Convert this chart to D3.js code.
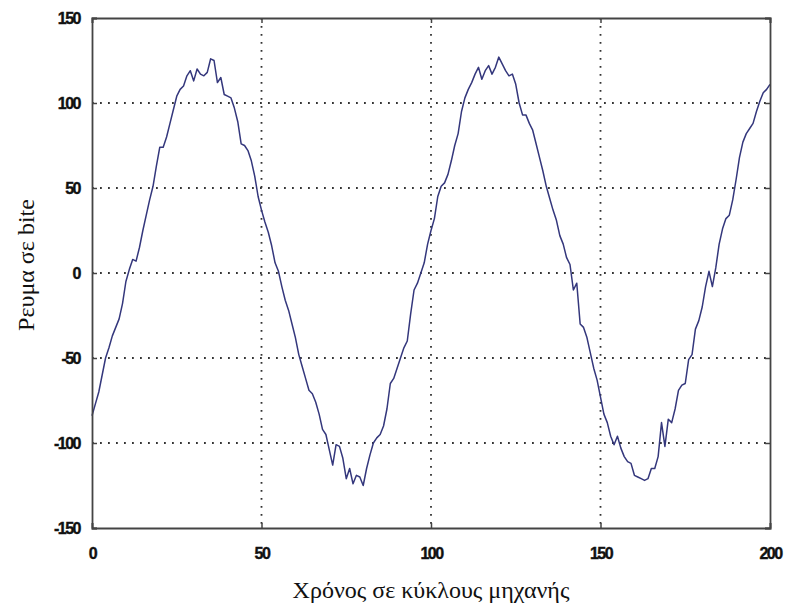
<!DOCTYPE html>
<html>
<head>
<meta charset="utf-8">
<script src="https://cdn.jsdelivr.net/npm/d3@7"></script>
<style>
  body { margin: 0; background: #fff; }
  .tick text { font-family: "Liberation Sans", Arial, sans-serif; font-weight: bold; font-size: 16px; letter-spacing: -1.5px; fill: #111; stroke: #111; stroke-width: 0.4px; }
  .axis-label { font-family: "Liberation Serif", "Times New Roman", serif; font-size: 24px; fill: #111; }
</style>
</head>
<body>
<svg id="chart" width="786" height="610"></svg>
<script>
  // Current samples (one per machine cycle, 0..200)
  const current = [
    -84, -77, -70, -60, -50, -44, -37, -32, -27, -18,
    -5, 2, 8, 7, 15, 25, 34, 43, 51, 63,
    74, 74, 80, 88, 96, 104, 108, 110, 116, 119,
    113, 120, 117, 116, 118, 126, 125, 112, 115, 105,
    104, 103, 97, 89, 76, 75, 72, 66, 57, 45,
    37, 30, 24, 16, 6, 1, -8, -16, -22, -30,
    -38, -48, -55, -62, -69, -71, -76, -83, -92, -95,
    -104, -113, -101, -102, -109, -121, -115, -124, -119, -120,
    -125, -115, -107, -100, -97, -95, -90, -80, -65, -62,
    -56, -50, -44, -40, -24, -10, -6, 0, 6, 17,
    25, 32, 45, 51, 53, 58, 66, 75, 82, 95,
    103, 108, 112, 117, 121, 114, 119, 122, 117, 121,
    127, 123, 119, 116, 117, 111, 100, 93, 93, 88,
    84, 76, 68, 60, 51, 44, 37, 31, 22, 17,
    9, 5, -10, -6, -30, -32, -38, -47, -56, -63,
    -73, -83, -88, -96, -101, -96, -103, -108, -111, -112,
    -119, -120, -121, -122, -121, -115, -115, -108, -88, -102,
    -86, -88, -80, -69, -66, -65, -51, -48, -33, -28,
    -20, -8, 1, -8, 3, 17, 26, 32, 34, 43,
    55, 68, 77, 82, 85, 88, 95, 101, 106, 108,
    111
  ];
  const xTicks = [0, 50, 100, 150, 200];
  const yTicks = [-150, -100, -50, 0, 50, 100, 150];
  const xLabel = 'Χρόνος σε κύκλους μηχανής';
  const yLabel = 'Ρευμα σε bite';

  const svg = d3.select('#chart');
  const margin = { left: 92, right: 15, top: 18, bottom: 82 };
  const width = 786, height = 610;

  const x = d3.scaleLinear().domain([0, 200]).range([margin.left, width - margin.right - 1]);
  const y = d3.scaleLinear().domain([-150, 150]).range([height - margin.bottom, margin.top]);

  // Grid
  const grid = svg.append('g')
    .attr('stroke', '#333')
    .attr('stroke-width', 1.8)
    .attr('stroke-dasharray', '1.8,6.2');
  grid.selectAll('.gx')
    .data(xTicks.slice(1, -1))
    .enter().append('line')
    .attr('x1', d => x(d)).attr('x2', d => x(d))
    .attr('y1', y(150)).attr('y2', y(-150));
  grid.selectAll('.gy')
    .data(yTicks.slice(1, -1))
    .enter().append('line')
    .attr('x1', x(0)).attr('x2', x(200))
    .attr('y1', d => y(d)).attr('y2', d => y(d));

  // Signal
  const line = d3.line()
    .x((d, i) => x(i))
    .y(d => y(d));
  svg.append('path')
    .datum(current)
    .attr('fill', 'none')
    .attr('stroke', '#34377c')
    .attr('stroke-width', 1.5)
    .attr('stroke-linejoin', 'round')
    .attr('d', line);

  // Axes (plain hyphen for negatives, as in the original)
  const fmt = d => String(d);
  svg.append('g')
    .attr('transform', `translate(0,${y(-150)})`)
    .call(d3.axisBottom(x).tickValues(xTicks).tickSize(-5).tickPadding(20).tickFormat(fmt));
  svg.append('g')
    .attr('transform', `translate(${x(0)},0)`)
    .call(d3.axisLeft(y).tickValues(yTicks).tickSize(-5).tickPadding(12).tickFormat(fmt));
  svg.append('g')
    .attr('transform', `translate(${x(200)},0)`)
    .call(d3.axisRight(y).tickValues(yTicks).tickSize(-5).tickFormat(''));
  svg.append('g')
    .attr('transform', `translate(0,${y(150)})`)
    .call(d3.axisTop(x).tickValues(xTicks).tickSize(-5).tickFormat(''));

  svg.selectAll('.domain').attr('stroke', '#444').attr('stroke-width', 1.8);
  svg.selectAll('.tick line').attr('stroke', '#444').attr('stroke-width', 1.5);

  // Axis labels
  svg.append('text')
    .attr('class', 'axis-label')
    .attr('x', x(100))
    .attr('y', 598)
    .attr('text-anchor', 'middle')
    .text(xLabel);
  svg.append('text')
    .attr('class', 'axis-label')
    .attr('transform', `translate(34,${y(0) - 8}) rotate(-90)`)
    .attr('text-anchor', 'middle')
    .text(yLabel);
</script>
</body>
</html>
